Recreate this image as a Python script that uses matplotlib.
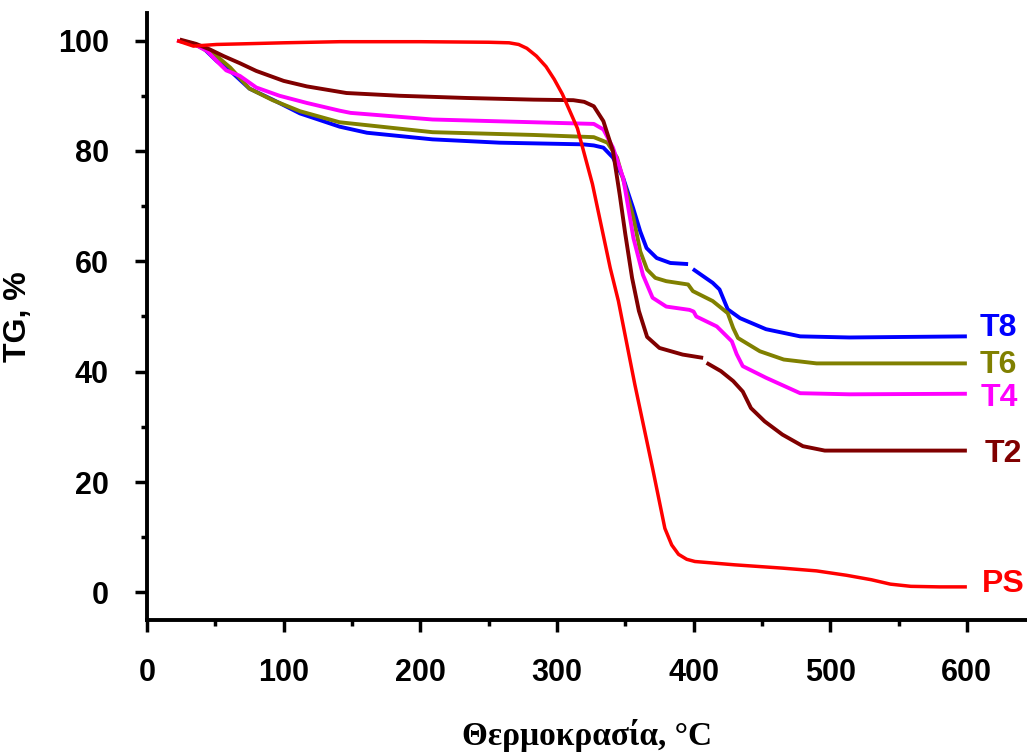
import numpy as np
import matplotlib
matplotlib.use("Agg")
import matplotlib.pyplot as plt
from matplotlib.ticker import MultipleLocator

nan = np.nan

# ---------------------------------------------------------------------
# TG curves (temperature in C, mass in %)
# ---------------------------------------------------------------------
T_PS = [22, 34, 51, 68, 100, 141, 200, 250, 265, 272, 278, 285, 292, 298,
        304, 315, 326, 339, 345, 357, 370, 379, 384, 389, 395, 401, 430, 465,
        490, 512, 530, 544, 559, 580, 600]
TG_PS = [100.0, 99.0, 99.3, 99.4, 99.6, 99.8, 99.8, 99.7, 99.6, 99.3, 98.6,
         97.2, 95.3, 93.0, 90.3, 84.1, 74.0, 58.8, 52.8, 37.7, 22.5, 11.6,
         8.6, 6.9, 6.0, 5.6, 5.0, 4.4, 3.9, 3.1, 2.3, 1.5, 1.1, 1.0, 1.0]

T_T2 = [24, 36, 46, 56, 68, 80, 100, 117, 146, 185, 234, 283, 312, 320, 327,
        334, 341, 346, 350, 355, 360, 366, 375, 392, 407, 408.5, 409.5, 420,
        429, 436, 442, 452, 465, 480, 496, 520, 600]
TG_T2 = [100.2, 99.4, 98.4, 97.2, 95.9, 94.5, 92.7, 91.7, 90.5, 90.0, 89.6,
         89.3, 89.2, 88.9, 88.1, 85.4, 80.0, 72.0, 65.0, 57.0, 51.0, 46.3,
         44.3, 43.1, 42.5, nan, 41.6, 40.1, 38.3, 36.4, 33.4, 31.0, 28.6,
         26.5, 25.7, 25.7, 25.7]

T_T4 = [22, 35, 44, 51, 58, 68, 80, 97, 117, 141, 149, 209, 283, 327, 334,
        341, 348.5, 356, 363, 370, 380, 397, 400, 402, 417, 428, 431.5, 436,
        453, 478, 514, 600]
TG_T4 = [100.0, 99.3, 98.1, 96.3, 94.6, 93.6, 91.5, 90.0, 88.7, 87.3, 86.9,
         85.7, 85.2, 84.9, 83.9, 80.6, 75.1, 64.2, 57.5, 53.4, 51.8, 51.2,
         50.9, 50.0, 48.2, 45.5, 43.2, 41.0, 38.9, 36.1, 35.9, 36.0]

T_T6 = [24, 36, 51, 61, 75, 92, 112, 141, 209, 283, 327, 337, 344, 350, 356,
        361, 366, 372, 380, 396, 399.5, 414, 425, 429, 432.5, 448.5, 466,
        490, 600]
TG_T6 = [100.0, 99.2, 97.2, 95.1, 91.3, 89.2, 87.2, 85.2, 83.4, 82.9, 82.5,
         81.5, 78.8, 73.5, 67.9, 61.8, 58.5, 57.0, 56.4, 55.8, 54.6, 52.8,
         50.6, 47.9, 46.1, 43.7, 42.2, 41.5, 41.5]

T_T8 = [24, 33, 41, 51, 61, 75, 92, 112, 141, 161, 209, 258, 319, 327, 334,
        341, 348.5, 355.7, 361, 365.6, 373, 383, 396, 397.5, 399.5, 414, 419,
        425, 434, 453, 478, 514, 600]
TG_T8 = [100.0, 99.5, 98.7, 96.3, 94.5, 91.3, 89.3, 86.8, 84.4, 83.3, 82.1,
         81.5, 81.2, 81.0, 80.6, 78.8, 75.1, 69.7, 65.4, 62.4, 60.6, 59.7,
         59.5, nan, 58.6, 56.1, 54.9, 51.3, 49.7, 47.7, 46.4, 46.2, 46.4]

LABELS = ['T8', 'T6', 'T4', 'T2', 'PS']
COLORS = ['#0000FF', '#808000', '#FF00FF', '#800000', '#FF0000']

# ---------------------------------------------------------------------
# Figure
# ---------------------------------------------------------------------
fig = plt.figure(figsize=(10.27, 7.56), dpi=100)
ax = fig.add_axes([0.1431, 0.1799, 0.8569, 0.8029])

series = [(T_T8, TG_T8), (T_T6, TG_T6), (T_T4, TG_T4), (T_T2, TG_T2), (T_PS, TG_PS)]
for (t, tg), c in zip(series, COLORS):
    lw = 2.5 if c == '#FF0000' else 2.8
    ax.plot(t, tg, color=c, linewidth=lw, solid_capstyle='butt',
            solid_joinstyle='round')

# curve labels at the right end
label_pos = {'T8': (609, 47.9), 'T6': (609, 41.3), 'T4': (610, 35.2),
             'T2': (613, 25.0), 'PS': (611, 1.6)}
for lab, c in zip(LABELS, COLORS):
    x, y = label_pos[lab]
    ax.text(x, y, lab, color=c, fontsize=23, fontweight='bold',
            family='Liberation Sans', ha='left', va='center', clip_on=False)

ax.set_xlim(0, 644)
ax.set_ylim(-5, 105)
ax.set_xticks(range(0, 601, 100))
ax.xaxis.set_minor_locator(MultipleLocator(50))
ax.set_yticks(range(0, 101, 20))
ax.yaxis.set_minor_locator(MultipleLocator(10))

for side in ['top', 'right']:
    ax.spines[side].set_visible(False)
for side in ['left', 'bottom']:
    ax.spines[side].set_linewidth(2.8)

ax.tick_params(which='major', direction='out', length=8.5, width=2.5)
ax.tick_params(which='minor', direction='out', length=4, width=2.5)
ax.tick_params(axis='y', which='major', pad=19)
ax.tick_params(axis='x', which='major', pad=19)
for lbl in ax.get_xticklabels() + ax.get_yticklabels():
    lbl.set_fontsize(22)
    lbl.set_fontweight('bold')
    lbl.set_family('Liberation Sans')

ax.set_ylabel('TG, %', fontsize=23, fontweight='bold', family='Liberation Sans',
              labelpad=18)
ax.set_xlabel('Θερμοκρασία, °C', fontsize=24, fontweight='bold',
              family='Liberation Serif', labelpad=22)

fig.savefig('out.png', dpi=100)
